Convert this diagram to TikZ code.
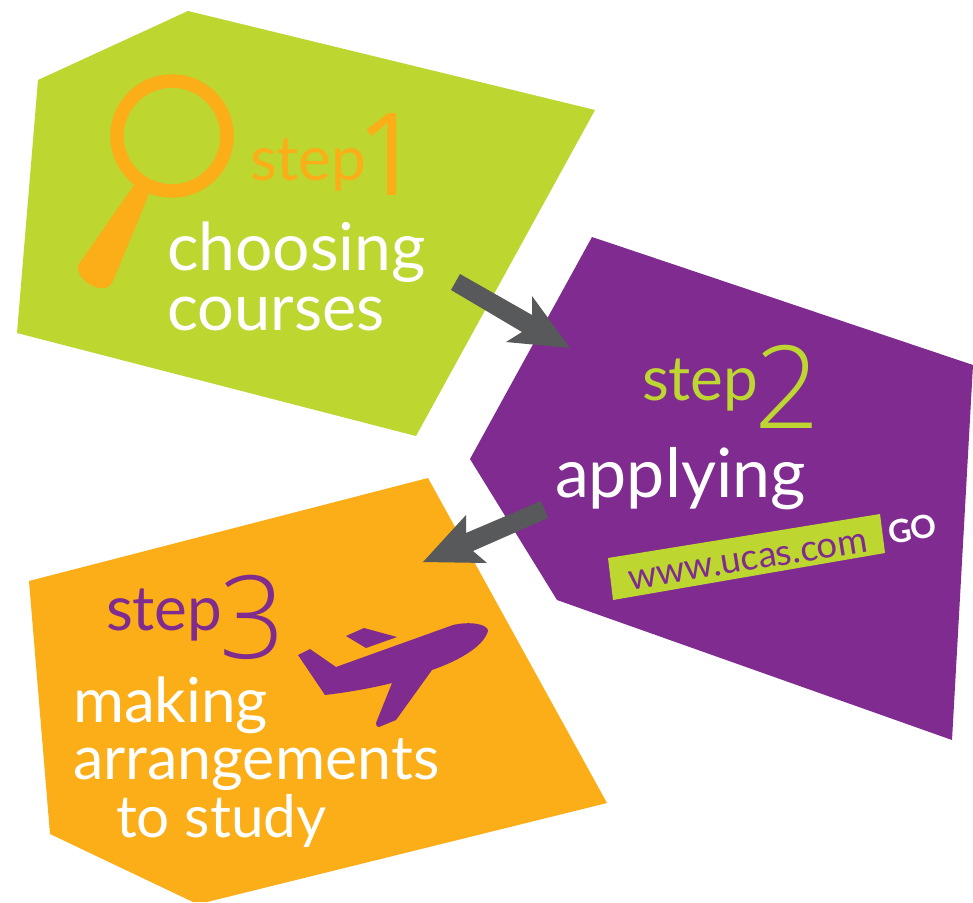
\documentclass[tikz,border=0pt]{standalone}
\usepackage{fontspec}
\setmainfont{Lato}[BoldFont={* Bold}]
\newfontfamily\digitfont{Open Sans Light}
\newfontfamily\onefont{Open Sans}
\definecolor{lime}{HTML}{BDD630}
\definecolor{plum}{HTML}{7F2B90}
\definecolor{amber}{HTML}{FBAE17}
\definecolor{slate}{HTML}{58595B}
\newcommand{\fsz}[1]{\fontsize{#1}{#1}\selectfont}
\tikzset{
  txt/.style={anchor=base west,inner sep=0pt,outer sep=0pt},
  head/.style={txt,white},
  steplabel/.style={txt,font=\fsz{62}},
  digit/.style={txt,font=\digitfont\fsz{115}},
  arrowshape/.style={fill=slate,draw=none}
}
\begin{document}
\begin{tikzpicture}[x=1pt,y=-1pt]
\useasboundingbox (0,0) rectangle (973,902);
\fill[white] (0,0) rectangle (973,902);
% panels
\fill[lime] (188,11) -- (595,110) -- (416,436) -- (17,333) -- (38,80) -- cycle;
\fill[plum] (592,237) -- (973,365) -- (952,740) -- (557,600) -- (470,459) -- cycle;
\fill[amber] (428,478) -- (607,803) -- (207,902) -- (193,902) -- (50,834) -- (29,581) -- cycle;
% magnifier
\draw[amber,line width=13.5pt] (172,136) circle (55);
\fill[amber] (134,185) -- (149,194) -- (113,281) .. controls (110,288) and (104,289) .. (99,288)
  .. controls (90,286) and (80,279) .. (78,270) .. controls (77,268) and (78,266) .. (79,264) -- cycle;
% step 1
\node[steplabel,amber] (s1) at (250,180) {step};
\node[txt,amber,font=\onefont\fsz{115}] (d1) at (356,195) {1};
\node[head,font=\fsz{66}] (c1) at (167,270) {choosing};
\node[head,font=\fsz{65}] (c2) at (167,330) {courses};
% step 2
\node[steplabel,lime] (s2) at (642,400) {step};
\node[digit,lime] (d2) at (754,428) {2};
\node[head,font=\fsz{68}] (a1) at (555,497) {applying};
\fill[lime] (608,558) -- (880,514) -- (885,553) -- (613,600) -- cycle;
\node[txt,plum,rotate=9.2,font=\fsz{36.5}] (url) at (630,590) {www.ucas.com};
\node[txt,white,rotate=9.2,font=\bfseries\fsz{32}] (go) at (890,544) {GO};
% step 3
\node[steplabel,plum] (s3) at (106,630) {step};
\node[digit,plum] (d3) at (219,658) {3};
\node[head,font=\fsz{62}] (m1) at (73,722) {making};
\node[head,font=\fsz{61}] (m2) at (73,779) {arrangements};
\node[head,font=\fsz{58.5}] (m3) at (116,837) {to study};
% plane
\fill[plum] (488,631) .. controls (488,624) and (470,621) .. (453,625) -- (336,667) -- (310,649) -- (298,655) -- (325,695)
  .. controls (350,692) and (372,688) .. (392,683) -- (376,723) .. controls (376,726) and (377,727) .. (379,727)
  -- (396,720) -- (432,670) .. controls (455,662) and (483,648) .. (488,631) -- cycle;
\fill[plum] (346,636) -- (364,628) -- (397,637) -- (366,648) -- cycle;
% arrows
\fill[arrowshape] (460,274) -- (532,315) -- (532,296) -- (570,348) -- (506,342) -- (522,332) -- (451,290) -- cycle;
\fill[arrowshape] (541,501) -- (466,533) -- (466,515) -- (423,562) -- (487,563) -- (473,551) -- (548,518) -- cycle;
\end{tikzpicture}
\end{document}
